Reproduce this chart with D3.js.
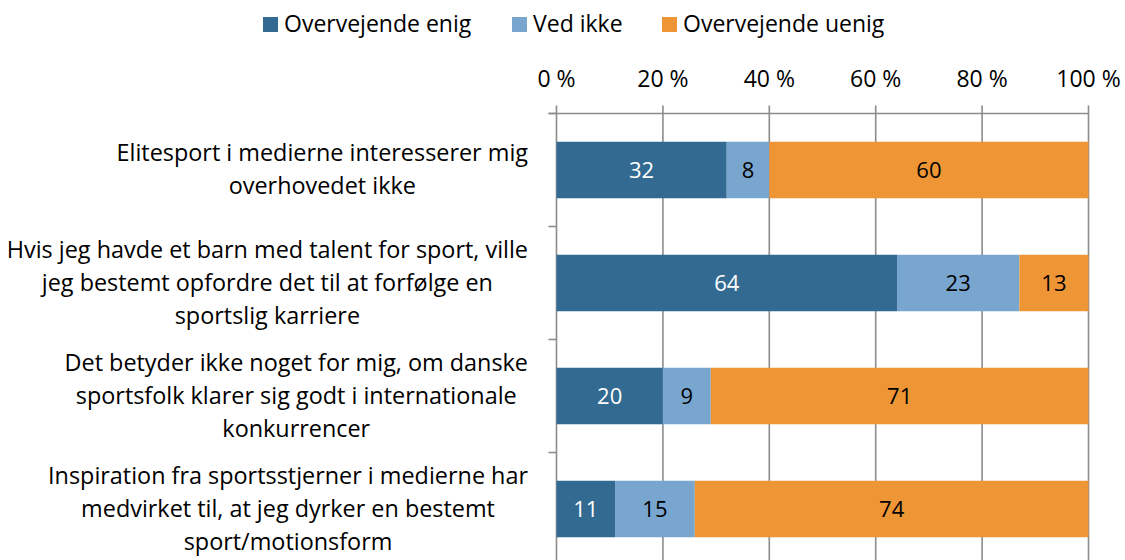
<!DOCTYPE html>
<html>
<head>
<meta charset="utf-8">
<script src="https://cdn.jsdelivr.net/npm/d3@7"></script>
<style>
  html, body { margin: 0; padding: 0; background: #fff; }
  svg { display: block; font-family: "Open Sans", sans-serif; }
</style>
</head>
<body>
<svg id="chart" width="1125" height="560"></svg>
<script>
const categories = [
  ["Elitesport i medierne interesserer mig", "overhovedet ikke"],
  ["Hvis jeg havde et barn med talent for sport, ville", "jeg bestemt opfordre det til at forfølge en", "sportslig karriere"],
  ["Det betyder ikke noget for mig, om danske", "sportsfolk klarer sig godt i internationale", "konkurrencer"],
  ["Inspiration fra sportsstjerner i medierne har", "medvirket til, at jeg dyrker en bestemt", "sport/motionsform"]
];
const seriesNames = ["Overvejende enig", "Ved ikke", "Overvejende uenig"];
const enig = [32, 64, 20, 11];
const vedIkke = [8, 23, 9, 15];
const uenig = [60, 13, 71, 74];
const tickValues = [0, 20, 40, 60, 80, 100];
const tickLabels = ["0 %", "20 %", "40 %", "60 %", "80 %", "100 %"];

const colors = ["#336A92", "#79A6CF", "#EE9536"];
const labelColors = ["#ffffff", "#000000", "#000000"];
const seriesValues = [enig, vedIkke, uenig];

(function () {
const svg = d3.select("#chart");
const FS_CAT = 23.4, FS_TICK = 23, FS_DATA = 22, FS_LEG = 23;
const pLeft = 556.5, pRight = 1088.5, pTop = 113.5, band = 113;
const x = d3.scaleLinear().domain([0, 100]).range([pLeft, pRight]);
const y = d3.scaleBand().domain(d3.range(categories.length)).range([pTop, pTop + band * categories.length]).paddingInner(0.5).paddingOuter(0.25);

const grid = "#8c8c8c";
svg.append("g").selectAll("line").data(tickValues).join("line")
  .attr("x1", d => x(d)).attr("x2", d => x(d))
  .attr("y1", pTop - 8).attr("y2", 560)
  .attr("stroke", grid).attr("stroke-width", 1.6);
svg.append("line").attr("x1", pLeft - 8).attr("x2", pRight).attr("y1", pTop).attr("y2", pTop)
  .attr("stroke", grid).attr("stroke-width", 1.6);
svg.append("g").selectAll("line").data(d3.range(categories.length + 1)).join("line")
  .attr("x1", pLeft - 8).attr("x2", pLeft).attr("y1", d => pTop + d * band).attr("y2", d => pTop + d * band)
  .attr("stroke", grid).attr("stroke-width", 1.6);

svg.append("g").selectAll("text").data(tickValues).join("text")
  .attr("x", d => x(d)).attr("y", 87).attr("text-anchor", "middle")
  .attr("font-size", FS_TICK).attr("fill", "#000").text((d, i) => tickLabels[i]);

const stack = categories.map((c, i) => {
  let acc = 0;
  return seriesValues.map((s, k) => { const r = {i, k, x0: acc, x1: acc + s[i], v: s[i]}; acc += s[i]; return r; });
}).flat();

svg.append("g").selectAll("rect").data(stack).join("rect")
  .attr("x", d => x(d.x0)).attr("width", d => x(d.x1) - x(d.x0))
  .attr("y", d => y(d.i)).attr("height", y.bandwidth())
  .attr("fill", d => colors[d.k]);

svg.append("g").selectAll("text").data(stack).join("text")
  .attr("x", d => (x(d.x0) + x(d.x1)) / 2).attr("y", d => y(d.i) + y.bandwidth() / 2 + 8)
  .attr("text-anchor", "middle").attr("font-size", FS_DATA)
  .attr("fill", d => labelColors[d.k]).text(d => d.v);

const labelRight = 528, lineH = 33;
categories.forEach((lines, i) => {
  const g = svg.append("g");
  const texts = g.selectAll("text").data(lines).join("text")
    .attr("font-size", FS_CAT).attr("fill", "#000").attr("text-anchor", "middle").text(d => d);
  let maxW = 0;
  texts.each(function() { maxW = Math.max(maxW, this.getComputedTextLength()); });
  const cy = y(i) + y.bandwidth() / 2;
  const n = lines.length;
  texts.attr("x", labelRight - maxW / 2)
    .attr("y", (d, j) => cy + (j - (n - 1) / 2) * lineH + 7.5);
});

const legendX = [263, 512, 662];
const lg = svg.append("g");
seriesNames.forEach((name, k) => {
  lg.append("rect").attr("x", legendX[k]).attr("y", 17).attr("width", 15).attr("height", 15).attr("fill", colors[k]);
  lg.append("text").attr("x", legendX[k] + 21).attr("y", 32).attr("font-size", FS_LEG).attr("fill", "#000").text(name);
});
})();
</script>
</body>
</html>
